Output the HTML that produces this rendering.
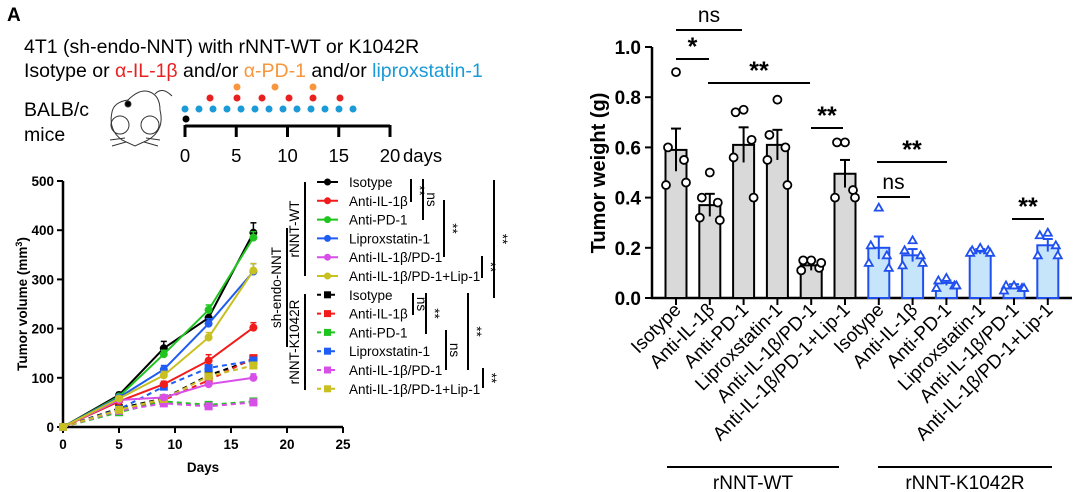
<!DOCTYPE html>
<html><head><meta charset="utf-8"><style>
body{margin:0;width:1080px;height:492px;background:#fff;overflow:hidden;font-family:"Liberation Sans",Arial,sans-serif}
svg{position:absolute;left:0;top:0}
</style></head><body>
<svg id="fig" width="1080" height="492" viewBox="0 0 1080 492" font-family="Liberation Sans, Arial, sans-serif">
<text x="7" y="21" font-size="19" font-weight="bold">A</text>
<text x="24" y="53" font-size="19.5">4T1 (sh-endo-NNT) with rNNT-WT or K1042R</text>
<text x="24" y="77" font-size="19.5">Isotype or <tspan fill="#e8201f">α-IL-1β</tspan> and/or <tspan fill="#f7963c">α-PD-1</tspan> and/or <tspan fill="#1a9ad6">liproxstatin-1</tspan></text>
<text x="24" y="116" font-size="19.5">BALB/c</text>
<text x="24" y="141" font-size="19.5">mice</text>
<g fill="none" stroke="#333" stroke-width="1">
<path d="M128 100 Q140 88 150 92 Q160 96 160 110 Q165 130 148 140 L135 146 L122 140 Q108 130 112 112 Q114 102 128 100Z"/>
<path d="M155 94 Q162 86 172 96"/>
<circle cx="120" cy="125" r="9"/><circle cx="150" cy="125" r="9"/>
<circle cx="128" cy="104" r="3" fill="#000"/>
<path d="M110 140 L125 138 M112 146 L126 142 M160 140 L146 138 M158 146 L144 142"/>
</g>
<g id="timeline"></g>

<g id="line"></g>
<g id="bar"></g>
</svg>
<script>
const NS="http://www.w3.org/2000/svg";
function mk(p,t,a,txt){const e=document.createElementNS(NS,t);for(const k in a)e.setAttribute(k,a[k]);if(txt!==undefined)e.textContent=txt;p.appendChild(e);return e;}

// ---------- timeline ----------
const tl=document.getElementById('timeline');
const tx=d=>185+d*10.25;
mk(tl,'line',{x1:tx(0),y1:126,x2:tx(20),y2:126,stroke:'#000','stroke-width':3});
[0,5,10,15,20].forEach(d=>{mk(tl,'line',{x1:tx(d),y1:125,x2:tx(d),y2:137,stroke:'#000','stroke-width':3});
 const t=mk(tl,'text',{x:tx(d),y:162,'font-size':18.5,'text-anchor':'middle'},String(d));
 });
const dl=mk(tl,'text',{x:tx(20)+13,y:162,'font-size':18.5},'days');

mk(tl,'circle',{cx:tx(0)+1,cy:119,r:3.5,fill:'#000'});
for(let i=0;i<13;i++)mk(tl,'circle',{cx:tx(0)+i*14,cy:109,r:3.5,fill:'#1a9ad6'});
[210,237,262,289,313,340].forEach(x=>mk(tl,'circle',{cx:x,cy:98,r:3.5,fill:'#e8201f'}));
[237,275,313].forEach(x=>mk(tl,'circle',{cx:x,cy:87,r:3.5,fill:'#f7963c'}));

// ---------- line chart ----------
const days=[0,5,9,13,17];
const seriesNames=['Isotype','Anti-IL-1β','Anti-PD-1','Liproxstatin-1','Anti-IL-1β/PD-1','Anti-IL-1β/PD-1+Lip-1'];
const colors=['#000','#f21b1b','#1fc41f','#1f5cf2','#d84fe8','#c8c020'];
const wtValues=[[0,65,160,222,395],[0,52,87,135,202],[0,62,148,238,385],[0,60,117,210,316],[0,55,60,87,100],[0,58,105,182,318]];
const wtErr=[[0,5,14,14,20],[0,4,6,12,10],[0,4,8,10,12],[0,4,8,10,16],[0,3,5,6,8],[0,4,8,10,14]];
const kValues=[[0,38,58,105,137],[0,32,55,95,140],[0,30,52,45,52],[0,36,82,120,135],[0,33,48,42,50],[0,35,57,103,125]];
const xTicks=[0,5,10,15,20,25];
const yTicks=[0,100,200,300,400,500];
const lc=document.getElementById('line');
const lx=d=>63+d*11.2, ly=v=>427-v*0.492;
mk(lc,'line',{x1:63,y1:ly(500),x2:63,y2:428,stroke:'#000','stroke-width':2.5});
mk(lc,'line',{x1:62,y1:427,x2:lx(25),y2:427,stroke:'#000','stroke-width':2.5});
yTicks.forEach(v=>{mk(lc,'line',{x1:57,y1:ly(v),x2:63,y2:ly(v),stroke:'#000','stroke-width':2});
 const t=mk(lc,'text',{x:54,y:ly(v)+5,'font-size':13.5,'font-weight':'bold','text-anchor':'end'},v);
 });
xTicks.forEach(v=>{mk(lc,'line',{x1:lx(v),y1:427,x2:lx(v),y2:433,stroke:'#000','stroke-width':2});
 const t=mk(lc,'text',{x:lx(v),y:449,'font-size':13.5,'font-weight':'bold','text-anchor':'middle'},v);
 });
let t=mk(lc,'text',{x:203,y:472,'font-size':13.5,'font-weight':'bold','text-anchor':'middle'},'Days');

t=mk(lc,'text',{transform:'translate(27,304) rotate(-90)','font-size':13.5,'font-weight':'bold','text-anchor':'middle'});
t.innerHTML='Tumor volume (mm<tspan dy="-5" font-size="9">3</tspan><tspan dy="5">)</tspan>';

function drawSeries(vals,dashed,err){
 vals.forEach((s,i)=>{
  const g=mk(lc,'g',{});
  
  
  mk(g,'polyline',{points:s.map((v,j)=>lx(days[j])+','+ly(v)).join(' '),fill:'none',stroke:colors[i],'stroke-width':2,'stroke-dasharray':dashed?'5,4':'none'});
  s.forEach((v,j)=>{
   if(err&&err[i][j]){mk(g,'line',{x1:lx(days[j]),y1:ly(v),x2:lx(days[j]),y2:ly(v+err[i][j]),stroke:colors[i],'stroke-width':1.5});
    mk(g,'line',{x1:lx(days[j])-3,y1:ly(v+err[i][j]),x2:lx(days[j])+3,y2:ly(v+err[i][j]),stroke:colors[i],'stroke-width':1.5});}
   if(dashed)mk(g,'rect',{x:lx(days[j])-4,y:ly(v)-4,width:8,height:8,fill:colors[i]});
   else mk(g,'circle',{cx:lx(days[j]),cy:ly(v),r:4,fill:colors[i]});
  });
 });
}
drawSeries(kValues,true,null);
drawSeries(wtValues,false,wtErr);
// legend
for(let k=0;k<12;k++){
 const i=k%6, d=k>=6, y=182+k*18.8;
 const g=mk(lc,'g',{});
 
 mk(g,'line',{x1:317,y1:y,x2:338,y2:y,stroke:colors[i],'stroke-width':2,'stroke-dasharray':d?'4,3':'none'});
 if(d)mk(g,'rect',{x:324,y:y-3.5,width:7,height:7,fill:colors[i]});else mk(g,'circle',{cx:327.5,cy:y,r:3.5,fill:colors[i]});
 mk(g,'text',{x:349,y:y+5,'font-size':13.5},seriesNames[i]);
}
function vbar(x,y1,y2,label,rot){mk(lc,'line',{x1:x,y1:y1,x2:x,y2:y2,stroke:'#000','stroke-width':2});
 const tt=mk(lc,'text',{transform:`translate(${x+(rot?-6:4)},${(y1+y2)/2}) rotate(${rot?-90:90})`,'font-size':13.5,'text-anchor':'middle'},label);
 }
vbar(305,182,276,'rNNT-WT',1);vbar(305,294,390,'rNNT-K1042R',1);vbar(287,228,347,'sh-endo-NNT',1);
[[411,179,202,'**'],[423,179,220,'ns'],[444,200,257,'**'],[482,256,278,'**'],[494,180,298,'**'],
 [413,293,315,'ns'],[426,293,334,'**'],[446,330,370,'ns'],[468,293,370,'**'],[483,368,388,'**']].forEach(b=>vbar(b[0],b[1],b[2],b[3],0));

// ---------- bar chart ----------
const categories=['Isotype','Anti-IL-1β','Anti-PD-1','Liproxstatin-1','Anti-IL-1β/PD-1','Anti-IL-1β/PD-1+Lip-1','Isotype','Anti-IL-1β','Anti-PD-1','Liproxstatin-1','Anti-IL-1β/PD-1','Anti-IL-1β/PD-1+Lip-1'];
const barMeans=[0.59,0.37,0.61,0.61,0.13,0.495,0.20,0.17,0.06,0.185,0.045,0.21];
const barErr=[0.085,0.045,0.07,0.06,0.02,0.055,0.045,0.025,0.01,0.01,0.01,0.025];
const points=[[0.90,0.60,0.55,0.45,0.46],[0.50,0.40,0.38,0.32,0.31],[0.75,0.74,0.63,0.56,0.40],[0.79,0.65,0.60,0.55,0.45],[0.15,0.15,0.12,0.11,0.14],[0.62,0.62,0.43,0.40,0.40],
 [0.36,0.21,0.17,0.14,0.12],[0.23,0.19,0.17,0.13,0.14],[0.08,0.07,0.05,0.04,0.05],[0.20,0.19,0.19,0.18,0.18],[0.05,0.05,0.04,0.03,0.04],[0.26,0.25,0.21,0.17,0.17]];
const wTicks=['0.0','0.2','0.4','0.6','0.8','1.0'];
const bc=document.getElementById('bar');
const bx=i=>676+i*33.8, by=v=>298-v*251;
const jit=[0,-8,8,-10,10];
mk(bc,'line',{x1:652,y1:by(1),x2:652,y2:299,stroke:'#000','stroke-width':2.5});
mk(bc,'line',{x1:651,y1:298,x2:1072,y2:298,stroke:'#000','stroke-width':2.5});
wTicks.forEach(s=>{const v=parseFloat(s);mk(bc,'line',{x1:645,y1:by(v),x2:652,y2:by(v),stroke:'#000','stroke-width':2});
 const tt=mk(bc,'text',{x:641,y:by(v)+7,'font-size':19,'font-weight':'bold','text-anchor':'end'},s);
 });
t=mk(bc,'text',{transform:'translate(605,173) rotate(-90)','font-size':20,'font-weight':'bold','text-anchor':'middle'},'Tumor weight (g)');

categories.forEach((c,i)=>{
 const k=i>=6, col=k?'#1f4fef':'#000', fill=k?'#c6e4fa':'#d9d9d9';
 const g=mk(bc,'g',{});
 
 mk(g,'rect',{x:bx(i)-10.5,y:by(barMeans[i]),width:21,height:298-by(barMeans[i]),fill:fill,stroke:col,'stroke-width':2});
 mk(g,'line',{x1:bx(i),y1:by(barMeans[i]-barErr[i]),x2:bx(i),y2:by(barMeans[i]+barErr[i]),stroke:col,'stroke-width':2});
 mk(g,'line',{x1:bx(i)-5,y1:by(barMeans[i]+barErr[i]),x2:bx(i)+5,y2:by(barMeans[i]+barErr[i]),stroke:col,'stroke-width':2});
 points[i].forEach((v,j)=>{const px=bx(i)+jit[j],py=by(v);
  if(k)mk(g,'polygon',{points:`${px},${py-4} ${px-4},${py+3} ${px+4},${py+3}`,fill:'#fff',stroke:col,'stroke-width':1.8});
  else mk(g,'circle',{cx:px,cy:py,r:4,fill:'#fff',stroke:col,'stroke-width':1.8});});
 mk(bc,'line',{x1:bx(i),y1:298,x2:bx(i),y2:305,stroke:'#000','stroke-width':2});
 const tt=mk(bc,'text',{transform:`translate(${bx(i)+6},${311}) rotate(-45)`,'font-size':19,'text-anchor':'end'},c);
 
});
function hsig(x1,x2,y,label){mk(bc,'line',{x1:x1,y1:y,x2:x2,y2:y,stroke:'#000','stroke-width':2});
 const tt=mk(bc,'text',{x:(x1+x2)/2,y:y-(label==='ns'?8:-1),'font-size':label==='ns'?21:25,'font-weight':label==='ns'?'normal':'bold','text-anchor':'middle',dy:label==='ns'?0:-5},label);
 }
hsig(676,742,30,'ns');hsig(676,709,59,'*');hsig(708,810,83,'**');hsig(811,843,128,'**');
hsig(877,947,162,'**');hsig(877,910,197,'ns');hsig(1012,1044,219,'**');
mk(bc,'line',{x1:667,y1:467,x2:839,y2:467,stroke:'#000','stroke-width':2});
mk(bc,'line',{x1:878,y1:467,x2:1052,y2:467,stroke:'#000','stroke-width':2});
t=mk(bc,'text',{x:753,y:489,'font-size':19,'text-anchor':'middle'},'rNNT-WT');

t=mk(bc,'text',{x:965,y:489,'font-size':19,'text-anchor':'middle'},'rNNT-K1042R');

</script>
</body></html>
